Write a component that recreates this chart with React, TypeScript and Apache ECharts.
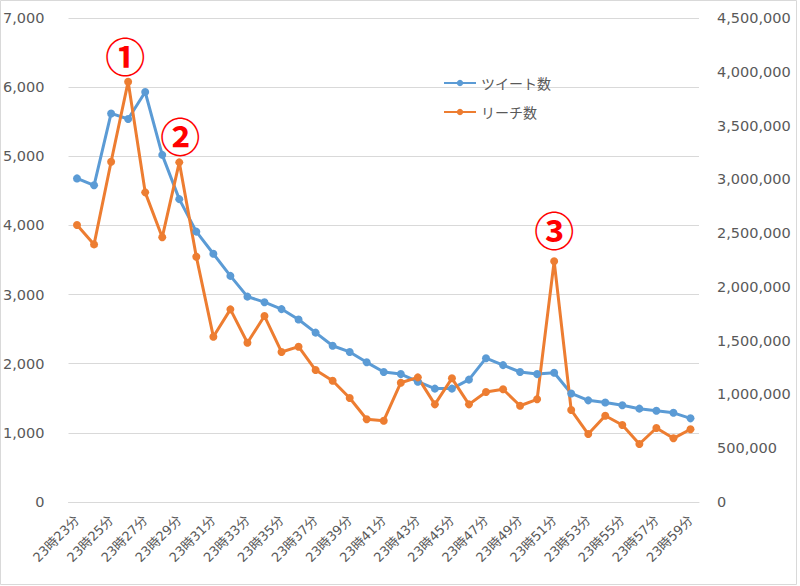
import React, { useEffect, useRef } from "react";
import * as echarts from "echarts";

const categories = [
  "23時23分", "23時24分", "23時25分", "23時26分", "23時27分", "23時28分", "23時29分", "23時30分",
  "23時31分", "23時32分", "23時33分", "23時34分", "23時35分", "23時36分", "23時37分", "23時38分",
  "23時39分", "23時40分", "23時41分", "23時42分", "23時43分", "23時44分", "23時45分", "23時46分",
  "23時47分", "23時48分", "23時49分", "23時50分", "23時51分", "23時52分", "23時53分", "23時54分",
  "23時55分", "23時56分", "23時57分", "23時58分", "23時59分",
];

const tweets = [
  4680, 4580, 5620, 5540, 5930, 5020, 4380, 3910, 3590, 3270,
  2970, 2890, 2790, 2640, 2450, 2260, 2170, 2020, 1880, 1850,
  1740, 1640, 1640, 1770, 2080, 1980, 1880, 1850, 1870, 1570,
  1470, 1440, 1400, 1350, 1320, 1290, 1210,
];

const reach = [
  2575000, 2395000, 3164000, 3908000, 2879000, 2461000, 3158000, 2281000, 1537000, 1791000,
  1481000, 1729000, 1395000, 1444000, 1227000, 1128000, 967000, 769000, 756000, 1109000,
  1159000, 908000, 1150000, 908000, 1023000, 1048000, 895000, 955000, 2238000, 855000,
  632000, 802000, 716000, 539000, 688000, 592000, 676000,
];

const seriesNames = ["ツイート数", "リーチ数"];
const leftTicks = { min: 0, max: 7000, interval: 1000 };
const rightTicks = { min: 0, max: 4500000, interval: 500000 };

const annotations = [
  { text: "①", index: 3, dx: -3, dy: -27 },
  { text: "②", index: 6, dx: 1, dy: -27 },
  { text: "③", index: 28, dx: 0, dy: -32 },
];

const FONT = "'DejaVu Sans', 'Noto Sans CJK JP', sans-serif";
const GREY = "#595959";
const GRID = "#D9D9D9";

export default function App() {
  const ref = useRef<HTMLDivElement>(null);

  useEffect(() => {
    document.body.style.margin = "0";
    const chart = echarts.init(ref.current!, undefined, { renderer: "svg" });
    const fmt = (v: number) => v.toLocaleString("en-US");
    chart.setOption({
      animation: false,
      backgroundColor: "#ffffff",
      textStyle: { fontFamily: FONT },
      graphic: [
        {
          type: "rect",
          shape: { x: 0.5, y: 0.5, width: 796, height: 584 },
          style: { fill: "none", stroke: GRID, lineWidth: 1 },
          silent: true,
        },
      ],
      grid: { left: 67, right: 101, top: 18, bottom: 84, containLabel: false },
      legend: {
        orient: "vertical",
        left: 438,
        top: 71,
        itemWidth: 32,
        itemHeight: 8,
        itemGap: 15,
        data: seriesNames,
        textStyle: { color: GREY, fontSize: 14, fontFamily: "'Noto Sans CJK JP', sans-serif" },
      },
      xAxis: {
        type: "category",
        data: categories,
        boundaryGap: true,
        axisLine: { show: true, lineStyle: { color: GRID, width: 1 } },
        axisTick: { show: false },
        axisLabel: {
          interval: 1,
          rotate: 45,
          margin: 16,
          color: GREY,
          fontSize: 13,
          fontFamily: FONT,
        },
      },
      yAxis: [
        {
          type: "value",
          ...leftTicks,
          position: "left",
          axisLine: { show: false },
          axisTick: { show: false },
          splitLine: { show: true, lineStyle: { color: GRID, width: 1 } },
          axisLabel: { color: GREY, fontSize: 14.5, margin: 24, formatter: fmt, fontFamily: FONT },
        },
        {
          type: "value",
          ...rightTicks,
          position: "right",
          axisLine: { show: false },
          axisTick: { show: false },
          splitLine: { show: false },
          axisLabel: { color: GREY, fontSize: 14.5, margin: 18, formatter: fmt, fontFamily: FONT },
        },
      ],
      series: [
        {
          name: seriesNames[0],
          type: "line",
          yAxisIndex: 0,
          data: tweets,
          symbol: "circle",
          symbolSize: 8,
          lineStyle: { color: "#5B9BD5", width: 3 },
          itemStyle: { color: "#5B9BD5" },
        },
        {
          name: seriesNames[1],
          type: "line",
          yAxisIndex: 1,
          data: reach,
          symbol: "circle",
          symbolSize: 8,
          lineStyle: { color: "#ED7D31", width: 3 },
          itemStyle: { color: "#ED7D31" },
          markPoint: {
            symbol: "circle",
            symbolSize: 1,
            itemStyle: { color: "rgba(0,0,0,0)" },
            data: annotations.map((a) => ({
              coord: [a.index, reach[a.index]],
              label: {
                show: true,
                formatter: a.text,
                position: "inside",
                offset: [a.dx, a.dy],
                color: "#FF0000",
                fontSize: 40,
                fontWeight: "bold",
                fontFamily: "'Noto Sans CJK JP', sans-serif",
              },
            })),
          },
        },
      ],
    });
    return () => chart.dispose();
  }, []);

  return <div ref={ref} style={{ width: 800, height: 586 }} />;
}
